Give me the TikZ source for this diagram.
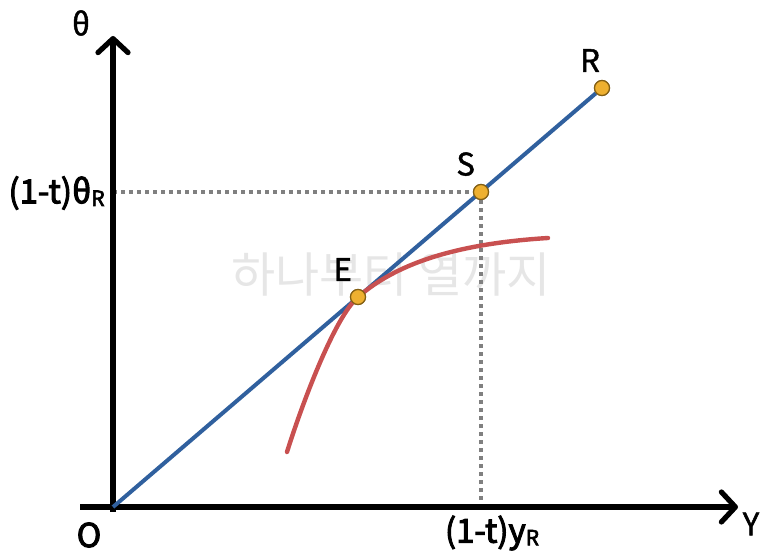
\documentclass[tikz,border=0pt]{standalone}
\usepackage{fontspec}
\setmainfont{Noto Sans CJK KR}
\newfontfamily\medfont[FakeBold=1.5]{Noto Sans CJK KR}
\newfontfamily\semifont[FakeBold=3]{Noto Sans CJK KR}
\usepackage{tikz}
\usetikzlibrary{arrows.meta,positioning}
\definecolor{lineblue}{RGB}{48,96,158}
\definecolor{curvered}{RGB}{200,80,80}
\definecolor{dotfill}{RGB}{238,176,48}
\definecolor{dotdraw}{RGB}{130,95,20}
\definecolor{guidegray}{RGB}{128,128,128}
\definecolor{markgray}{RGB}{230,230,230}
\newcommand{\lowsub}[1]{\raisebox{-.15ex}{\fontsize{10.5}{10.5}\selectfont #1}}

\begin{document}
\begin{tikzpicture}[x=0.5pt, y=-0.5pt,
      axis/.style={line width=2.6pt, -{Straight Barb[length=7pt, width=15pt, round]}},
      guide/.style={guidegray, line width=2pt, dash pattern=on 2pt off 2pt},
      pt/.style={circle, fill=dotfill, draw=dotdraw, line width=0.6pt, minimum size=7.5pt, inner sep=0pt},
      lbl/.style={font=\medfont\fontsize{15.5}{15.5}\selectfont, inner sep=1pt},
      val/.style={font=\semifont\fontsize{16.5}{16.5}\selectfont, inner sep=1pt}]
    \useasboundingbox (0,0) rectangle (773,555);
    % watermark
    \node[text=markgray, font=\fontsize{24}{24}\selectfont] (mark) at (391,275) {하나부터 열까지};
    % points
    \coordinate (O) at (113,507);
    \coordinate (xstart) at (80,507);
    \coordinate (xend) at (738,507);
    \coordinate (ystart) at (113,512);
    \coordinate (yend) at (113,36);
    \coordinate (Sx) at (481,507);
    \coordinate (Sy) at (113,192);
    \coordinate (cstart) at (287,452);
    \coordinate (cend) at (548,238);
    \node[pt] (R) at (602,88) {};
    \node[pt] (S) at (481,192) {};
    \node[pt] (E) at (358,297) {};
    % guides
    \draw[guide] (Sy) -- (S);
    \draw[guide] (S) -- (Sx);
    % axes
    \draw[axis] (xstart) -- (xend);
    \draw[axis] (ystart) -- (yend);
    % ray and curve
    \draw[lineblue, line width=2pt] (O) -- (R);
    \draw[curvered, line width=2.2pt, line cap=round]
      (cstart) .. controls (305,395) and (336,316) .. (E.center)
      .. controls (395,265) and (452,244) .. (cend);
    \node[pt] at (R) {};
    \node[pt] at (S) {};
    \node[pt] at (E) {};
    % labels
    \node[lbl, above left=4pt and -3pt of R] (Rlbl) {R};
    \node[lbl, above left=4pt and -1pt of S] (Slbl) {S};
    \node[lbl, above left=4pt and -1pt of E] (Elbl) {E};
    \node[lbl] (theta) at (81,23) {θ};
    \node[lbl] (ylbl) at (751,524) {Y};
    \node[val] (olbl) at (89,535) {O};
    \node[val, anchor=east] (tlbl) at (107,193) {(1-t)θ\lowsub{R}};
    \node[val] (ylbl2) at (492,533) {(1-t)y\lowsub{R}};
\end{tikzpicture}
\end{document}
